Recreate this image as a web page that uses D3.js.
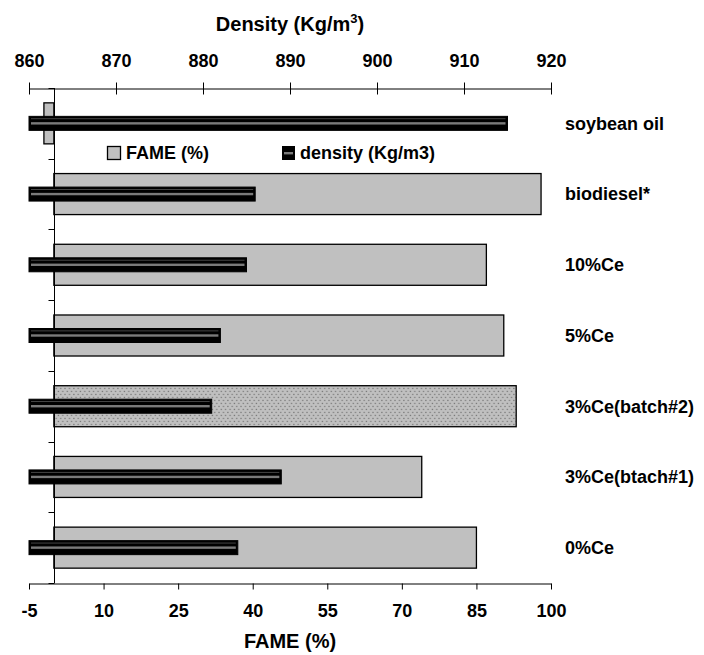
<!DOCTYPE html>
<html lang="en">
<head>
    <meta charset="UTF-8">
    <title>FAME and density</title>
    <script src="https://d3js.org/d3.v7.min.js"></script>
    <style>
        body { margin: 0; background: #fff; }
        text { font-family: "Liberation Sans", Arial, sans-serif; font-weight: bold; }
    </style>
</head>
<body>
    <script>
        var categories = ["soybean oil", "biodiesel*", "10%Ce", "5%Ce", "3%Ce(batch#2)", "3%Ce(btach#1)", "0%Ce"];
        var fame = [-2, 98, 87, 90.5, 93, 74, 85];
        var density = [915, 886, 885, 882, 881, 889, 884];
        var fameTicks = [-5, 10, 25, 40, 55, 70, 85, 100];
        var densityTicks = [860, 870, 880, 890, 900, 910, 920];

        var width = 704, height = 655;
        var plotLeft = 29, plotRight = 551, plotTop = 88, plotBottom = 583;

        var svg = d3.select("body").append("svg")
            .attr("width", width)
            .attr("height", height);

        var defs = svg.append("defs");
        var dots = defs.append("pattern")
            .attr("id", "dots")
            .attr("patternUnits", "userSpaceOnUse")
            .attr("width", 4.4)
            .attr("height", 6);
        dots.append("rect").attr("width", 4.4).attr("height", 6).attr("fill", "#c0c0c0");
        dots.append("rect").attr("x", 0.6).attr("y", 0.8).attr("width", 1.3).attr("height", 1.3).attr("fill", "#7a7a7a");
        dots.append("rect").attr("x", 2.8).attr("y", 3.8).attr("width", 1.3).attr("height", 1.3).attr("fill", "#7a7a7a");

        var xF = d3.scaleLinear().domain([-5, 100]).range([plotLeft, plotRight]);
        var xD = d3.scaleLinear().domain([860, 920]).range([plotLeft, plotRight]);
        var y = d3.scaleBand().domain(categories).range([plotTop, plotBottom])
            .paddingInner(0.42).paddingOuter(0.21);

        var rows = categories.map(function (c, i) {
            return { name: c, fame: fame[i], density: density[i] };
        });

        // FAME bars
        svg.selectAll("rect.fame")
            .data(rows)
            .enter().append("rect")
            .attr("class", "fame")
            .attr("x", function (d) { return xF(Math.min(0, d.fame)); })
            .attr("y", function (d) { return y(d.name); })
            .attr("width", function (d) { return Math.abs(xF(d.fame) - xF(0)); })
            .attr("height", y.bandwidth())
            .attr("fill", function (d) { return d.name == "3%Ce(batch#2)" ? "url(#dots)" : "#c0c0c0"; })
            .attr("stroke", "#000")
            .attr("stroke-width", 1.3);

        // category axis at FAME = 0
        var x0 = Math.round(xF(0)) + 0.5;
        svg.append("line")
            .attr("x1", x0).attr("x2", x0)
            .attr("y1", plotTop).attr("y2", plotBottom)
            .attr("stroke", "#000");
        svg.selectAll("line.ctick")
            .data(d3.range(categories.length + 1))
            .enter().append("line")
            .attr("class", "ctick")
            .attr("x1", x0 - 6).attr("x2", x0)
            .attr("y1", function (i) { return Math.round(plotTop + i * y.step()) + 0.5; })
            .attr("y2", function (i) { return Math.round(plotTop + i * y.step()) + 0.5; })
            .attr("stroke", "#000");

        // density bars
        var dh = 14;
        var dg = svg.selectAll("g.dens")
            .data(rows)
            .enter().append("g")
            .attr("class", "dens");
        dg.append("rect")
            .attr("x", xD(860))
            .attr("y", function (d) { return y(d.name) + y.bandwidth() / 2 - dh / 2; })
            .attr("width", function (d) { return xD(d.density) - xD(860); })
            .attr("height", dh)
            .attr("fill", "#000")
            .attr("stroke", "#000")
            .attr("stroke-width", 1);
        dg.append("rect")
            .attr("x", xD(860) + 2)
            .attr("y", function (d) { return y(d.name) + y.bandwidth() / 2 - 1.2; })
            .attr("width", function (d) { return xD(d.density) - xD(860) - 4; })
            .attr("height", 2.4)
            .attr("fill", "#7a7a7a");
        dg.append("rect")
            .attr("x", xD(860) + 2)
            .attr("y", function (d) { return y(d.name) + y.bandwidth() / 2 - dh / 2 + 2; })
            .attr("width", function (d) { return xD(d.density) - xD(860) - 4; })
            .attr("height", 0.8)
            .attr("fill", "#555");

        // top axis (density)
        var axTop = svg.append("g")
            .attr("transform", "translate(0," + (plotTop + 0.5) + ")")
            .call(d3.axisTop(xD).tickValues(densityTicks).tickSizeInner(6).tickSizeOuter(0).tickPadding(16)
                .tickFormat(function (d) { return String(d); }));
        axTop.selectAll(".tick line").attr("y1", 6);
        // bottom axis (FAME)
        var axBot = svg.append("g")
            .attr("transform", "translate(0," + (plotBottom + 0.5) + ")")
            .call(d3.axisBottom(xF).tickValues(fameTicks).tickSizeInner(6).tickSizeOuter(0).tickPadding(15)
                .tickFormat(function (d) { return String(d); }));
        svg.selectAll(".domain").attr("stroke", "#000");
        svg.selectAll(".tick text")
            .attr("fill", "#000")
            .style("font-size", "18px");

        // category labels
        svg.selectAll("text.cat")
            .data(rows)
            .enter().append("text")
            .attr("class", "cat")
            .attr("x", 565)
            .attr("y", function (d) { return y(d.name) + y.bandwidth() / 2; })
            .attr("dy", "0.35em")
            .style("font-size", "18px")
            .text(function (d) { return d.name; });

        // axis titles
        var tt = svg.append("text")
            .attr("x", (plotLeft + plotRight) / 2)
            .attr("y", 31)
            .attr("text-anchor", "middle")
            .style("font-size", "20px");
        tt.append("tspan").text("Density (Kg/m");
        tt.append("tspan").attr("dy", -8).style("font-size", "13px").text("3");
        tt.append("tspan").attr("dy", 8).text(")");

        svg.append("text")
            .attr("x", (plotLeft + plotRight) / 2)
            .attr("y", 648)
            .attr("text-anchor", "middle")
            .style("font-size", "20px")
            .text("FAME (%)");

        // legend
        var lg = svg.append("g");
        lg.append("rect").attr("x", 107.5).attr("y", 146.5).attr("width", 13).attr("height", 13)
            .attr("fill", "#c0c0c0").attr("stroke", "#000").attr("stroke-width", 1.3);
        lg.append("text").attr("x", 126).attr("y", 159).style("font-size", "18px").text("FAME (%)");
        lg.append("rect").attr("x", 282.5).attr("y", 146.5).attr("width", 12).attr("height", 13)
            .attr("fill", "#000").attr("stroke", "#000");
        lg.append("rect").attr("x", 284).attr("y", 152).attr("width", 9).attr("height", 2.4).attr("fill", "#7a7a7a");
        lg.append("text").attr("x", 300).attr("y", 159).style("font-size", "18px").text("density (Kg/m3)");
    </script>
</body>
</html>
